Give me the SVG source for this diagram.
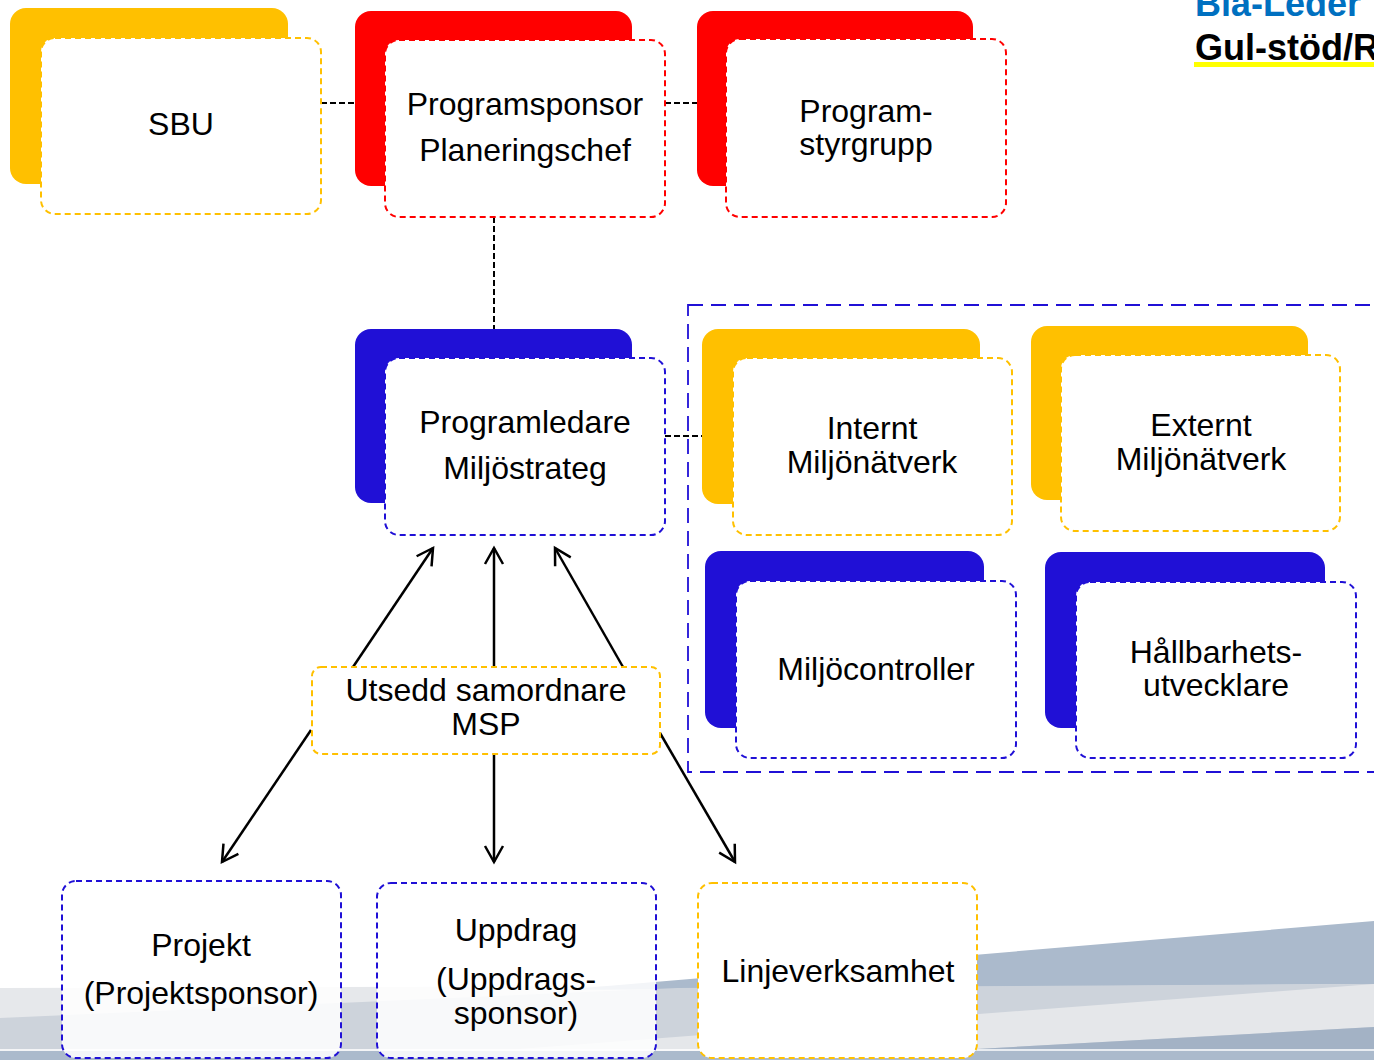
<svg xmlns="http://www.w3.org/2000/svg" width="1374" height="1060" viewBox="0 0 1374 1060">
<defs>
<style>
text{font-family:"Liberation Sans",Arial,sans-serif;font-size:32px;fill:#000;text-anchor:middle}
.by{fill:#FFC000}
.br{fill:#FF0000}
.bb{fill:#2010D6}
.f{fill:#fff;stroke-width:2;stroke-dasharray:6 4}
.fy{stroke:#FFC000}
.fr{stroke:#FF0000}
.fb{stroke:#2010D6}
.dc{stroke:#000;stroke-width:2;stroke-dasharray:6 3;fill:none}
.ar{stroke:#000;stroke-width:2.5;fill:none;marker-end:url(#ah)}
</style>
<marker id="ah" markerUnits="userSpaceOnUse" markerWidth="22" markerHeight="22" viewBox="0 0 22 22" refX="19" refY="11" orient="auto">
<path d="M3,2 L19,11 L3,20" fill="none" stroke="#000" stroke-width="2.5"/>
</marker>
</defs>
<g id="background">
<polygon points="0,988 1374,984 1374,1060 0,1060" fill="#E6E8EB"/>
<polygon points="560,990 1374,921 1374,984" fill="#ABBACC"/>
<polygon points="0,1018 677,988 1374,984 1374,1060 0,1060" fill="#CDD3DB"/>
<polygon points="1374,984 1374,1027 777,1060 374,1060" fill="#E5E7EA"/>
<polygon points="1374,1027 777,1060 1374,1060" fill="#A3B2C5"/>
<rect x="0" y="1051" width="1374" height="9" fill="#ABBACC"/>
<line x1="0" y1="1050" x2="1374" y2="1050" stroke="#fff" stroke-width="1.5"/>
</g>
<g id="legend">
<text x="1195" y="16" style="font-weight:bold;font-size:36px;fill:#0070C0;text-anchor:start">Blå-Leder</text>
<rect x="1194" y="62" width="180" height="5" fill="#FFFF00"/>
<text x="1195" y="60" style="font-weight:bold;font-size:36px;text-anchor:start">Gul-stöd/R</text>
</g>
<g id="group-box">
<rect x="688" y="305" width="700" height="467" fill="none" stroke="#2010D6" stroke-width="1.8" stroke-dasharray="15 8"/>
</g>
<g id="connectors">
<line class="dc" x1="321" y1="103" x2="355" y2="103"/>
<line class="dc" x1="665" y1="103" x2="697" y2="103"/>
<line class="dc" x1="494" y1="217" x2="494" y2="329"/>
<line class="dc" x1="665" y1="436" x2="703" y2="436"/>
<line class="ar" x1="353" y1="667" x2="433" y2="548"/>
<line class="ar" x1="494" y1="667" x2="494" y2="548"/>
<line class="ar" x1="623" y1="667" x2="555" y2="548"/>
<line class="ar" x1="311" y1="730" x2="222" y2="862"/>
<line class="ar" x1="494" y1="755" x2="494" y2="862"/>
<line class="ar" x1="660" y1="733" x2="735" y2="862"/>
</g>
<g id="sbu">
<rect class="by" x="10" y="8" width="278" height="176" rx="16"/>
<rect class="f fy" x="41" y="38" width="280" height="176" rx="14"/>
<text x="181" y="135">SBU</text>
</g>
<g id="programsponsor">
<rect class="br" x="355" y="11" width="277" height="175" rx="16"/>
<rect class="f fr" x="385" y="40" width="280" height="177" rx="14"/>
<text x="525" y="115">Programsponsor</text>
<text x="525" y="161">Planeringschef</text>
</g>
<g id="programstyrgrupp">
<rect class="br" x="697" y="11" width="276" height="175" rx="16"/>
<rect class="f fr" x="726" y="39" width="280" height="178" rx="14"/>
<text x="866" y="122">Program-</text>
<text x="866" y="155">styrgrupp</text>
</g>
<g id="programledare">
<rect class="bb" x="355" y="329" width="277" height="174" rx="16"/>
<rect class="f fb" x="385" y="358" width="280" height="177" rx="14"/>
<text x="525" y="433">Programledare</text>
<text x="525" y="479">Miljöstrateg</text>
</g>
<g id="internt">
<rect class="by" x="702" y="329" width="278" height="175" rx="16"/>
<rect class="f fy" x="733" y="358" width="279" height="177" rx="14"/>
<text x="872" y="439">Internt</text>
<text x="872" y="473">Miljönätverk</text>
</g>
<g id="externt">
<rect class="by" x="1031" y="326" width="277" height="174" rx="16"/>
<rect class="f fy" x="1061" y="355" width="279" height="176" rx="14"/>
<text x="1201" y="436">Externt</text>
<text x="1201" y="470">Miljönätverk</text>
</g>
<g id="miljocontroller">
<rect class="bb" x="705" y="551" width="279" height="177" rx="16"/>
<rect class="f fb" x="736" y="581" width="280" height="177" rx="14"/>
<text x="876" y="680">Miljöcontroller</text>
</g>
<g id="hallbarhet">
<rect class="bb" x="1045" y="552" width="280" height="176" rx="16"/>
<rect class="f fb" x="1076" y="582" width="280" height="176" rx="14"/>
<text x="1216" y="663">Hållbarhets-</text>
<text x="1216" y="696">utvecklare</text>
</g>
<g id="msp">
<rect class="f fy" x="312" y="667" width="348" height="87" rx="9"/>
<text x="486" y="701">Utsedd samordnare</text>
<text x="486" y="735">MSP</text>
</g>
<g id="projekt">
<rect class="f fb" x="62" y="881" width="279" height="177" rx="14" fill-opacity="0.85"/>
<text x="201" y="956">Projekt</text>
<text x="201" y="1004">(Projektsponsor)</text>
</g>
<g id="uppdrag">
<rect class="f fb" x="377" y="883" width="279" height="175" rx="14" fill-opacity="0.85"/>
<text x="516" y="941">Uppdrag</text>
<text x="516" y="990">(Uppdrags-</text>
<text x="516" y="1024">sponsor)</text>
</g>
<g id="linje">
<rect class="f fy" x="698" y="883" width="279" height="175" rx="14"/>
<text x="838" y="982">Linjeverksamhet</text>
</g>
</svg>
